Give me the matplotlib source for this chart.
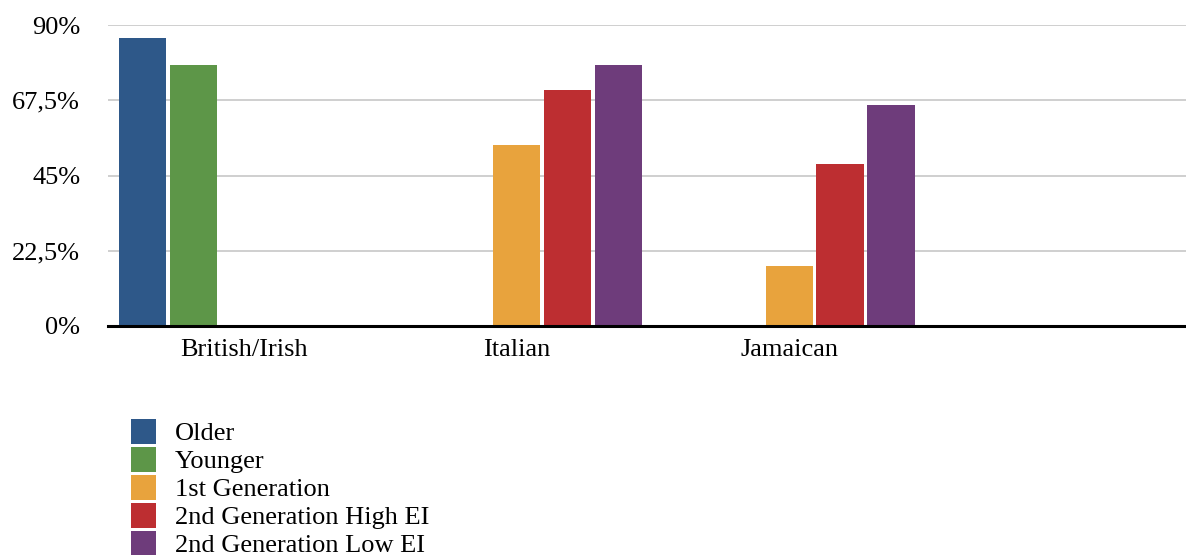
import matplotlib
matplotlib.use('Agg')
import matplotlib.pyplot as plt
import numpy as np
from matplotlib.patches import Rectangle
from matplotlib.ticker import FuncFormatter

plt.rcParams['font.family'] = ['Liberation Serif', 'DejaVu Serif']

categories = ['British/Irish', 'Italian', 'Jamaican', '']
series = ['Older', 'Younger', '1st Generation', '2nd Generation High EI', '2nd Generation Low EI']
colors = ['#2E5889', '#5D9648', '#E8A33D', '#BD2E31', '#6E3C7B']
older = [86.0, np.nan, np.nan, np.nan]
younger = [78.0, np.nan, np.nan, np.nan]
first_gen = [np.nan, 54.0, 18.0, np.nan]
second_high = [np.nan, 70.7, 48.5, np.nan]
second_low = [np.nan, 78.0, 66.0, np.nan]
yticks = [0, 22.5, 45, 67.5, 90]

W, H = 1186, 555
FS = 19


def px(x, y):
    return x / W, 1 - y / H


def pct(v, _):
    return f'{v:g}'.replace('.', ',') + '%'


def main():
    fig = plt.figure(figsize=(W / 100, H / 100), dpi=100)
    left, top = px(108, 25)
    _, bottom = px(0, 326)
    ax = fig.add_axes([left, bottom, 1 - left, top - bottom])

    x = np.arange(len(categories))
    slot = 0.187
    width = 0.174
    values = [older, younger, first_gen, second_high, second_low]
    for j, (vals, color) in enumerate(zip(values, colors)):
        ax.bar(x + (j - 2) * slot, vals, width=width, color=color, zorder=3)

    ax.set_xlim(-0.5, 3.456)
    ax.set_ylim(0, 90)
    ax.set_yticks(yticks)
    ax.yaxis.set_major_formatter(FuncFormatter(pct))
    ax.set_xticks(x)
    ax.set_xticklabels(categories)
    ax.tick_params(axis='both', length=0, labelsize=FS)
    ax.tick_params(axis='y', pad=20)
    ax.tick_params(axis='x', pad=9)
    ax.grid(axis='y', color='#cccccc', linewidth=1.3, zorder=0)
    for side in ('left', 'top', 'right'):
        ax.spines[side].set_visible(False)
    ax.spines['bottom'].set_color('black')
    ax.spines['bottom'].set_linewidth(2.2)
    ax.spines['bottom'].set_zorder(4)

    # legend, drawn by hand below the plot
    for i, (name, color) in enumerate(zip(series, colors)):
        ytop = 419 + i * 28
        x0, y0 = px(131, ytop + 25)
        fig.add_artist(Rectangle((x0, y0), 25 / W, 25 / H, transform=fig.transFigure,
                                 facecolor=color, edgecolor='none'))
        tx, ty = px(175, ytop + 21)
        fig.text(tx, ty, name, fontsize=FS, va='baseline', ha='left')

    fig.savefig('out.png', dpi=100)


if __name__ == '__main__':
    main()
